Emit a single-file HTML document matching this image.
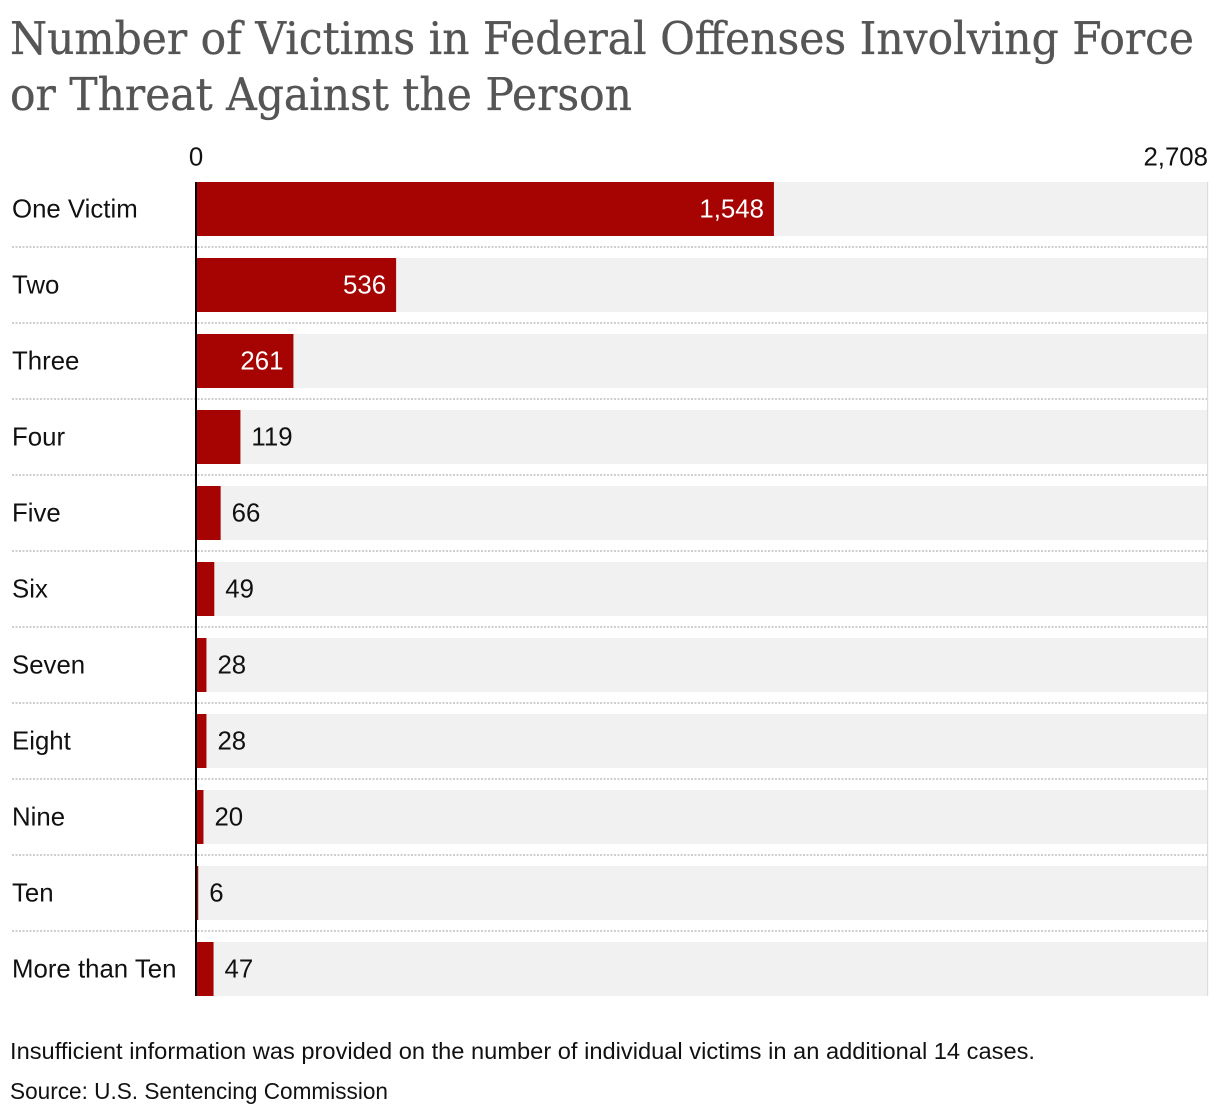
<!DOCTYPE html>
<html lang="en">
<head>
<meta charset="utf-8">
<title>Number of Victims in Federal Offenses Involving Force or Threat Against the Person</title>
<style>
html,body{margin:0;padding:0;background:#fff;width:1220px;height:1116px;overflow:hidden}
svg{display:block}
text{font-family:"Liberation Sans",sans-serif;font-size:25.8px;fill:#111}
.title{font-family:"DejaVu Serif",serif;font-size:45px;fill:#555;stroke:#555;stroke-width:.35px}
.foot{font-size:23.5px}
</style>
</head>
<body>
<svg id="chart" width="1220" height="1116" viewBox="0 0 1220 1116" xmlns="http://www.w3.org/2000/svg">
<text class="title" x="10" y="54" textLength="1184" lengthAdjust="spacingAndGlyphs">Number of Victims in Federal Offenses Involving Force</text>
<text class="title" x="10" y="110" textLength="622" lengthAdjust="spacingAndGlyphs">or Threat Against the Person</text>
<text class="foot" x="10" y="1059" textLength="1025" lengthAdjust="spacingAndGlyphs">Insufficient information was provided on the number of individual victims in an additional 14 cases.</text>
<text class="foot" x="10" y="1099" textLength="378" lengthAdjust="spacingAndGlyphs">Source: U.S. Sentencing Commission</text>
</svg>
<script>
const categories = ["One Victim","Two","Three","Four","Five","Six","Seven","Eight","Nine","Ten","More than Ten"];
const victimCounts = [1548,536,261,119,66,49,28,28,20,6,47];
const axisMin = 0;
const axisMax = 2708;
const axisTickLabels = ["0","2,708"];

const svg = document.getElementById('chart');
const NS = 'http://www.w3.org/2000/svg';
const x0 = 196, x1 = 1207, top0 = 182, rowStep = 76, barH = 54;
const xScale = v => x0 + (v - axisMin) / (axisMax - axisMin) * (x1 - x0);
const yScale = i => top0 + i * rowStep;
const fmt = v => v.toLocaleString('en-US');

function make(tag, attrs, text) {
  const el = document.createElementNS(NS, tag);
  for (const k in attrs) el.setAttribute(k, attrs[k]);
  if (text !== undefined) el.textContent = text;
  svg.appendChild(el);
  return el;
}

categories.forEach((cat, i) => {
  const slug = cat.toLowerCase().replace(/\s+/g, '-');
  const y = yScale(i);
  const track = make('rect', {x: x0, y: y, width: x1 - x0, height: barH, fill: '#f1f1f1'});
  
  
  const bar = make('rect', {x: x0, y: y, width: xScale(victimCounts[i]) - x0, height: barH, fill: '#a60303'});
  
  
  const label = make('text', {x: 12, y: y + 35.5}, cat);
  
  
  const end = xScale(victimCounts[i]);
  const inside = end - x0 > 80;
  const val = make('text', inside
    ? {x: end - 10, y: y + 35.5, 'text-anchor': 'end', style: 'fill:#fff'}
    : {x: end + 11, y: y + 35.5}, fmt(victimCounts[i]));
  
  
  if (i < categories.length - 1) {
    const sep = make('line', {x1: 12, x2: x1, y1: y + 65, y2: y + 65, stroke: '#cfcfcf', 'stroke-width': 2, 'stroke-dasharray': '2 1.5'});
    
    
  }
});

const bottom = yScale(categories.length - 1) + barH;
const rightEdge = make('rect', {x: x1, y: top0, width: 1.2, height: bottom - top0, fill: '#dcdcdc'});


const axis = make('rect', {x: x0 - 1, y: top0, width: 2, height: bottom - top0, fill: '#000'});


const tickMin = make('text', {x: xScale(axisMin), y: 165.5, 'text-anchor': 'middle'}, axisTickLabels[0]);


const tickMax = make('text', {x: xScale(axisMax) + 1, y: 165.5, 'text-anchor': 'end'}, axisTickLabels[1]);


</script>
</body>
</html>
